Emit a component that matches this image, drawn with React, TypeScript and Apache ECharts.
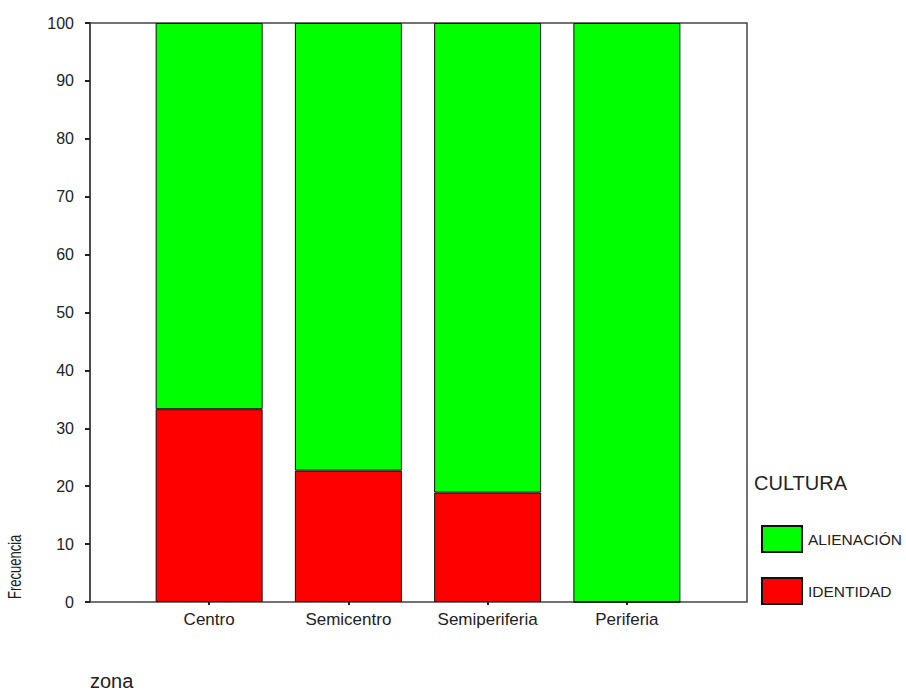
import React, { useEffect, useRef } from "react";
import * as echarts from "echarts";

const categories = ["Centro", "Semicentro", "Semiperiferia", "Periferia"];
const identidad = [33.3, 22.7, 18.9, 0];
const alienacion = [66.7, 77.3, 81.1, 100];
const yTicks = [0, 10, 20, 30, 40, 50, 60, 70, 80, 90, 100];

export default function App() {
  const ref = useRef<HTMLDivElement>(null);
  useEffect(() => {
    if (!ref.current) return;
    const chart = echarts.init(ref.current, undefined, { renderer: "svg" });
    const font = "Arial, 'Liberation Sans', sans-serif";
    chart.setOption({
      animation: false,
      backgroundColor: "#ffffff",
      textStyle: { fontFamily: font },
      grid: [
        { left: 90, top: 23, right: 159, bottom: 89, show: true, borderColor: "#444", borderWidth: 1.5, backgroundColor: "transparent" },
        { left: 139.5, width: 557, top: 23, bottom: 89 },
      ],
      xAxis: [
        { type: "value", gridIndex: 0, show: false, min: 0, max: 1 },
        {
          type: "category",
          gridIndex: 1,
          data: categories,
          axisLine: { show: false },
          axisTick: { show: true, alignWithLabel: true, length: 3, lineStyle: { color: "#222", width: 2 } },
          axisLabel: { color: "#222", fontSize: 17, margin: 9, fontFamily: font },
        },
      ],
      yAxis: [
        {
          type: "value",
          gridIndex: 0,
          min: yTicks[0],
          max: yTicks[yTicks.length - 1],
          interval: 10,
          splitLine: { show: false },
          axisLine: { show: true, lineStyle: { color: "#444", width: 1.5 } },
          axisTick: { show: true, length: 5, lineStyle: { color: "#222", width: 2 } },
          axisLabel: { color: "#222", fontSize: 16, margin: 16, fontFamily: font },
        },
        { type: "value", gridIndex: 1, min: 0, max: 100, show: false },
      ],
      legend: {
        orient: "vertical",
        left: 761,
        top: 525,
        itemWidth: 40,
        itemHeight: 26,
        itemGap: 24,
        icon: "rect",
        textStyle: { color: "#222", fontSize: 15.5, fontFamily: font, padding: [0, 0, 0, 1] },
        data: ["ALIENACIÓN", "IDENTIDAD"],
        padding: 0,
      },
      graphic: [
        { type: "text", left: 754, top: 473, style: { text: "CULTURA", fontSize: 20, fill: "#222", fontFamily: font } },
        { type: "text", x: 6, y: 599, rotation: Math.PI / 2, scaleX: 1, scaleY: 1.4, style: { text: "Frecuencia", fontSize: 13, fill: "#222", fontFamily: font, textVerticalAlign: "top" } },
        { type: "text", left: 90, top: 671, style: { text: "zona", fontSize: 20, fill: "#222", fontFamily: font } },
      ],
      series: [
        {
          name: "IDENTIDAD",
          type: "bar",
          stack: "t",
          xAxisIndex: 1,
          yAxisIndex: 1,
          barWidth: 107,
          data: identidad,
          itemStyle: { color: "#ff0000", borderColor: "#111", borderWidth: 1 },
        },
        {
          name: "ALIENACIÓN",
          type: "bar",
          stack: "t",
          xAxisIndex: 1,
          yAxisIndex: 1,
          barWidth: 107,
          data: alienacion,
          itemStyle: { color: "#00ff00", borderColor: "#111", borderWidth: 1 },
        },
      ],
    });
    return () => chart.dispose();
  }, []);
  return <div ref={ref} style={{ width: 906, height: 691, position: "absolute", left: 0, top: 0 }} />;
}
